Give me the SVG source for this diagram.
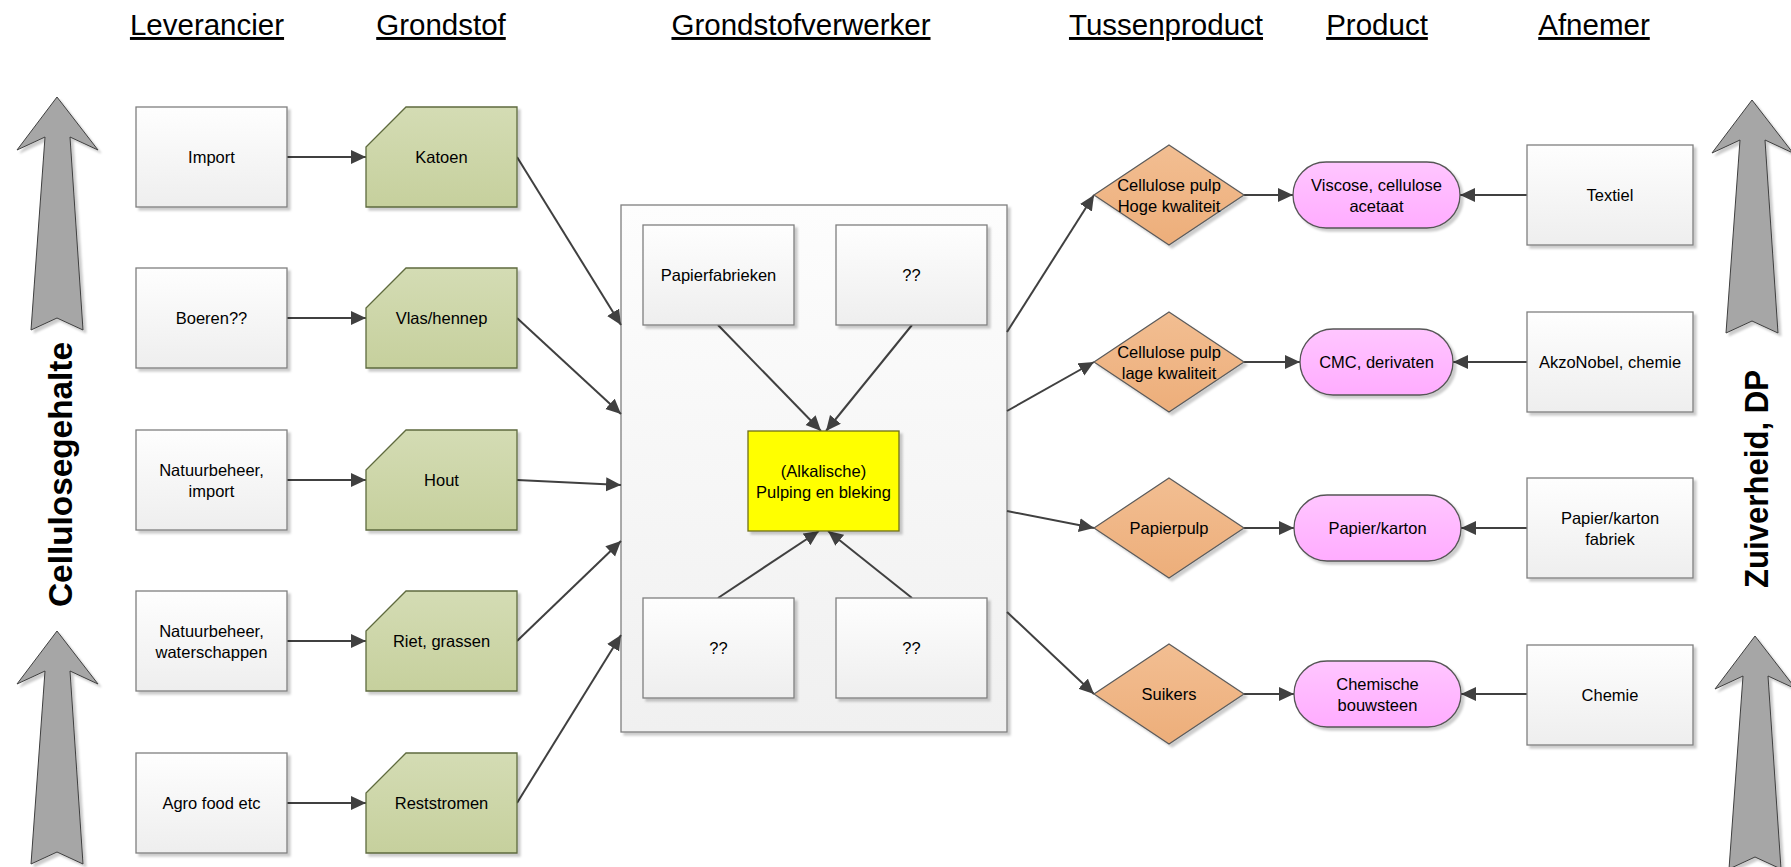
<svg xmlns="http://www.w3.org/2000/svg" width="1791" height="867" viewBox="0 0 1791 867">
<defs>
<linearGradient id="gBox" x1="0" y1="0" x2="0" y2="1"><stop offset="0" stop-color="#fefefe"/><stop offset="1" stop-color="#eeeeee"/></linearGradient>
<linearGradient id="gCont" x1="0" y1="0" x2="0" y2="1"><stop offset="0" stop-color="#fdfdfd"/><stop offset="1" stop-color="#f0f0f0"/></linearGradient>
<linearGradient id="gGreen" x1="0" y1="0" x2="0" y2="1"><stop offset="0" stop-color="#d4dcb4"/><stop offset="1" stop-color="#c6d09d"/></linearGradient>
<linearGradient id="gOrange" x1="0" y1="0" x2="0" y2="1"><stop offset="0" stop-color="#f2be92"/><stop offset="1" stop-color="#edae7a"/></linearGradient>
<linearGradient id="gPink" x1="0" y1="0" x2="0" y2="1"><stop offset="0" stop-color="#ffc6ff"/><stop offset="1" stop-color="#ffacff"/></linearGradient>
<filter id="sh" x="-10%" y="-10%" width="130%" height="130%"><feDropShadow dx="3" dy="3" stdDeviation="1.2" flood-color="#000" flood-opacity="0.2"/></filter>
<marker id="ah" markerUnits="userSpaceOnUse" markerWidth="16" markerHeight="15" refX="15" refY="7" orient="auto"><path d="M0,0 L15,7 L0,14 z" fill="#404040"/></marker>
<style>
.box{fill:url(#gBox);stroke:#7f7f7f;stroke-width:1.3;filter:url(#sh)}
.cont{fill:url(#gCont);stroke:#7f7f7f;stroke-width:1.3;filter:url(#sh)}
.grn{fill:url(#gGreen);stroke:#5e6a3e;stroke-width:1.3;filter:url(#sh)}
.dia{fill:url(#gOrange);stroke:#5a5a5a;stroke-width:1.2;filter:url(#sh)}
.pill{fill:url(#gPink);stroke:#555555;stroke-width:1.3;filter:url(#sh)}
.yel{fill:#ffff00;stroke:#6f6f1a;stroke-width:1.3;filter:url(#sh)}
.big{fill:#a6a6a6;stroke:#3f3f3f;stroke-width:1;filter:url(#sh)}
.con line{stroke:#404040;stroke-width:2;marker-end:url(#ah)}
text{font-family:"Liberation Sans",Arial,sans-serif;fill:#000}
.lbl{font-size:16.5px;text-anchor:middle}
.hdr{font-size:29.5px;text-anchor:middle;text-decoration:underline}
.side{font-size:33px;font-weight:bold;text-anchor:middle}
</style>
</defs>
<rect width="1791" height="867" fill="#ffffff"/>

<g id="headers">
<text class="hdr" x="207" y="35">Leverancier</text>
<text class="hdr" x="441" y="35">Grondstof</text>
<text class="hdr" x="801" y="35">Grondstofverwerker</text>
<text class="hdr" x="1166" y="35">Tussenproduct</text>
<text class="hdr" x="1377" y="35">Product</text>
<text class="hdr" x="1594" y="35">Afnemer</text>
</g>

<g id="axis-left">
<polygon class="big" points="57,97 98,150 70,137 83,330 57,318 31,330 45,137 17,150"/>
<polygon class="big" points="57,631 98,684 70,671 83,864 57,852 31,864 45,671 17,684"/>
<text class="side" transform="translate(72,474.5) rotate(-90)" textLength="265" lengthAdjust="spacingAndGlyphs">Cellulosegehalte</text>
</g>
<g id="axis-right">
<polygon class="big" points="1752,100 1793,153 1765,140 1778,333 1752,321 1726,333 1740,140 1712,153"/>
<polygon class="big" points="1755,636 1796,689 1768,676 1781,869 1755,857 1729,869 1743,676 1715,689"/>
<text class="side" transform="translate(1768,479) rotate(-90)" textLength="218" lengthAdjust="spacingAndGlyphs">Zuiverheid, DP</text>
</g>

<g id="container">
<rect class="cont" x="621" y="205" width="386" height="527"/>
</g>

<g id="connectors" class="con">
<line x1="287" y1="157" x2="366" y2="157"/>
<line x1="287" y1="318" x2="366" y2="318"/>
<line x1="287" y1="480" x2="366" y2="480"/>
<line x1="287" y1="641" x2="366" y2="641"/>
<line x1="287" y1="803" x2="366" y2="803"/>
<line x1="517" y1="157" x2="621" y2="325"/>
<line x1="517" y1="318" x2="621" y2="414"/>
<line x1="517" y1="480" x2="621" y2="485"/>
<line x1="517" y1="641" x2="621" y2="541"/>
<line x1="517" y1="803" x2="621" y2="635"/>
<line x1="718" y1="325" x2="821" y2="431"/>
<line x1="912" y1="325" x2="826" y2="431"/>
<line x1="718" y1="598" x2="819" y2="531"/>
<line x1="912" y1="598" x2="828" y2="531"/>
<line x1="1007" y1="332" x2="1094" y2="195"/>
<line x1="1007" y1="411" x2="1094" y2="362"/>
<line x1="1007" y1="511" x2="1094" y2="528"/>
<line x1="1007" y1="612" x2="1094" y2="694"/>
<line x1="1244" y1="195" x2="1293" y2="195"/>
<line x1="1244" y1="362" x2="1300" y2="362"/>
<line x1="1244" y1="528" x2="1294" y2="528"/>
<line x1="1244" y1="694" x2="1294" y2="694"/>
<line x1="1527" y1="195" x2="1460" y2="195"/>
<line x1="1527" y1="362" x2="1453" y2="362"/>
<line x1="1527" y1="528" x2="1461" y2="528"/>
<line x1="1527" y1="694" x2="1461" y2="694"/>
</g>

<g id="lev-import"><rect class="box" x="136" y="107" width="151" height="100"/><text class="lbl" x="211.5" y="163">Import</text></g>
<g id="lev-boeren"><rect class="box" x="136" y="268" width="151" height="100"/><text class="lbl" x="211.5" y="324">Boeren??</text></g>
<g id="lev-natuur1"><rect class="box" x="136" y="430" width="151" height="100"/><text class="lbl" x="211.5" y="475.5">Natuurbeheer,</text><text class="lbl" x="211.5" y="497">import</text></g>
<g id="lev-natuur2"><rect class="box" x="136" y="591" width="151" height="100"/><text class="lbl" x="211.5" y="636.5">Natuurbeheer,</text><text class="lbl" x="211.5" y="658">waterschappen</text></g>
<g id="lev-agro"><rect class="box" x="136" y="753" width="151" height="100"/><text class="lbl" x="211.5" y="809">Agro food etc</text></g>

<g id="gs-katoen"><polygon class="grn" points="406,107 517,107 517,207 366,207 366,147"/><text class="lbl" x="441.5" y="163">Katoen</text></g>
<g id="gs-vlas"><polygon class="grn" points="406,268 517,268 517,368 366,368 366,308"/><text class="lbl" x="441.5" y="324">Vlas/hennep</text></g>
<g id="gs-hout"><polygon class="grn" points="406,430 517,430 517,530 366,530 366,470"/><text class="lbl" x="441.5" y="486">Hout</text></g>
<g id="gs-riet"><polygon class="grn" points="406,591 517,591 517,691 366,691 366,631"/><text class="lbl" x="441.5" y="647">Riet, grassen</text></g>
<g id="gs-rest"><polygon class="grn" points="406,753 517,753 517,853 366,853 366,793"/><text class="lbl" x="441.5" y="809">Reststromen</text></g>

<g id="gv-papier"><rect class="box" x="643" y="225" width="151" height="100"/><text class="lbl" x="718.5" y="281">Papierfabrieken</text></g>
<g id="gv-q1"><rect class="box" x="836" y="225" width="151" height="100"/><text class="lbl" x="911.5" y="281">??</text></g>
<g id="gv-pulping"><rect class="yel" x="748" y="431" width="151" height="100"/><text class="lbl" x="823.5" y="476.5">(Alkalische)</text><text class="lbl" x="823.5" y="498">Pulping en bleking</text></g>
<g id="gv-q2"><rect class="box" x="643" y="598" width="151" height="100"/><text class="lbl" x="718.5" y="654">??</text></g>
<g id="gv-q3"><rect class="box" x="836" y="598" width="151" height="100"/><text class="lbl" x="911.5" y="654">??</text></g>

<g id="tp-hoog"><polygon class="dia" points="1169,145 1244,195 1169,245 1094,195"/><text class="lbl" x="1169" y="190.5">Cellulose pulp</text><text class="lbl" x="1169" y="212">Hoge kwaliteit</text></g>
<g id="tp-laag"><polygon class="dia" points="1169,312 1244,362 1169,412 1094,362"/><text class="lbl" x="1169" y="357.5">Cellulose pulp</text><text class="lbl" x="1169" y="379">lage kwaliteit</text></g>
<g id="tp-papierpulp"><polygon class="dia" points="1169,478 1244,528 1169,578 1094,528"/><text class="lbl" x="1169" y="534">Papierpulp</text></g>
<g id="tp-suikers"><polygon class="dia" points="1169,644 1244,694 1169,744 1094,694"/><text class="lbl" x="1169" y="700">Suikers</text></g>

<g id="pr-viscose"><rect class="pill" x="1293" y="162" width="167" height="66" rx="33" ry="33"/><text class="lbl" x="1376.5" y="190.5">Viscose, cellulose</text><text class="lbl" x="1376.5" y="212">acetaat</text></g>
<g id="pr-cmc"><rect class="pill" x="1300" y="329" width="153" height="66" rx="33" ry="33"/><text class="lbl" x="1376.5" y="368">CMC, derivaten</text></g>
<g id="pr-papier"><rect class="pill" x="1294" y="495" width="167" height="66" rx="33" ry="33"/><text class="lbl" x="1377.5" y="534">Papier/karton</text></g>
<g id="pr-chem"><rect class="pill" x="1294" y="661" width="167" height="66" rx="33" ry="33"/><text class="lbl" x="1377.5" y="689.5">Chemische</text><text class="lbl" x="1377.5" y="711">bouwsteen</text></g>

<g id="af-textiel"><rect class="box" x="1527" y="145" width="166" height="100"/><text class="lbl" x="1610" y="201">Textiel</text></g>
<g id="af-akzo"><rect class="box" x="1527" y="312" width="166" height="100"/><text class="lbl" x="1610" y="368">AkzoNobel, chemie</text></g>
<g id="af-papier"><rect class="box" x="1527" y="478" width="166" height="100"/><text class="lbl" x="1610" y="523.5">Papier/karton</text><text class="lbl" x="1610" y="545">fabriek</text></g>
<g id="af-chemie"><rect class="box" x="1527" y="645" width="166" height="100"/><text class="lbl" x="1610" y="701">Chemie</text></g>
</svg>
